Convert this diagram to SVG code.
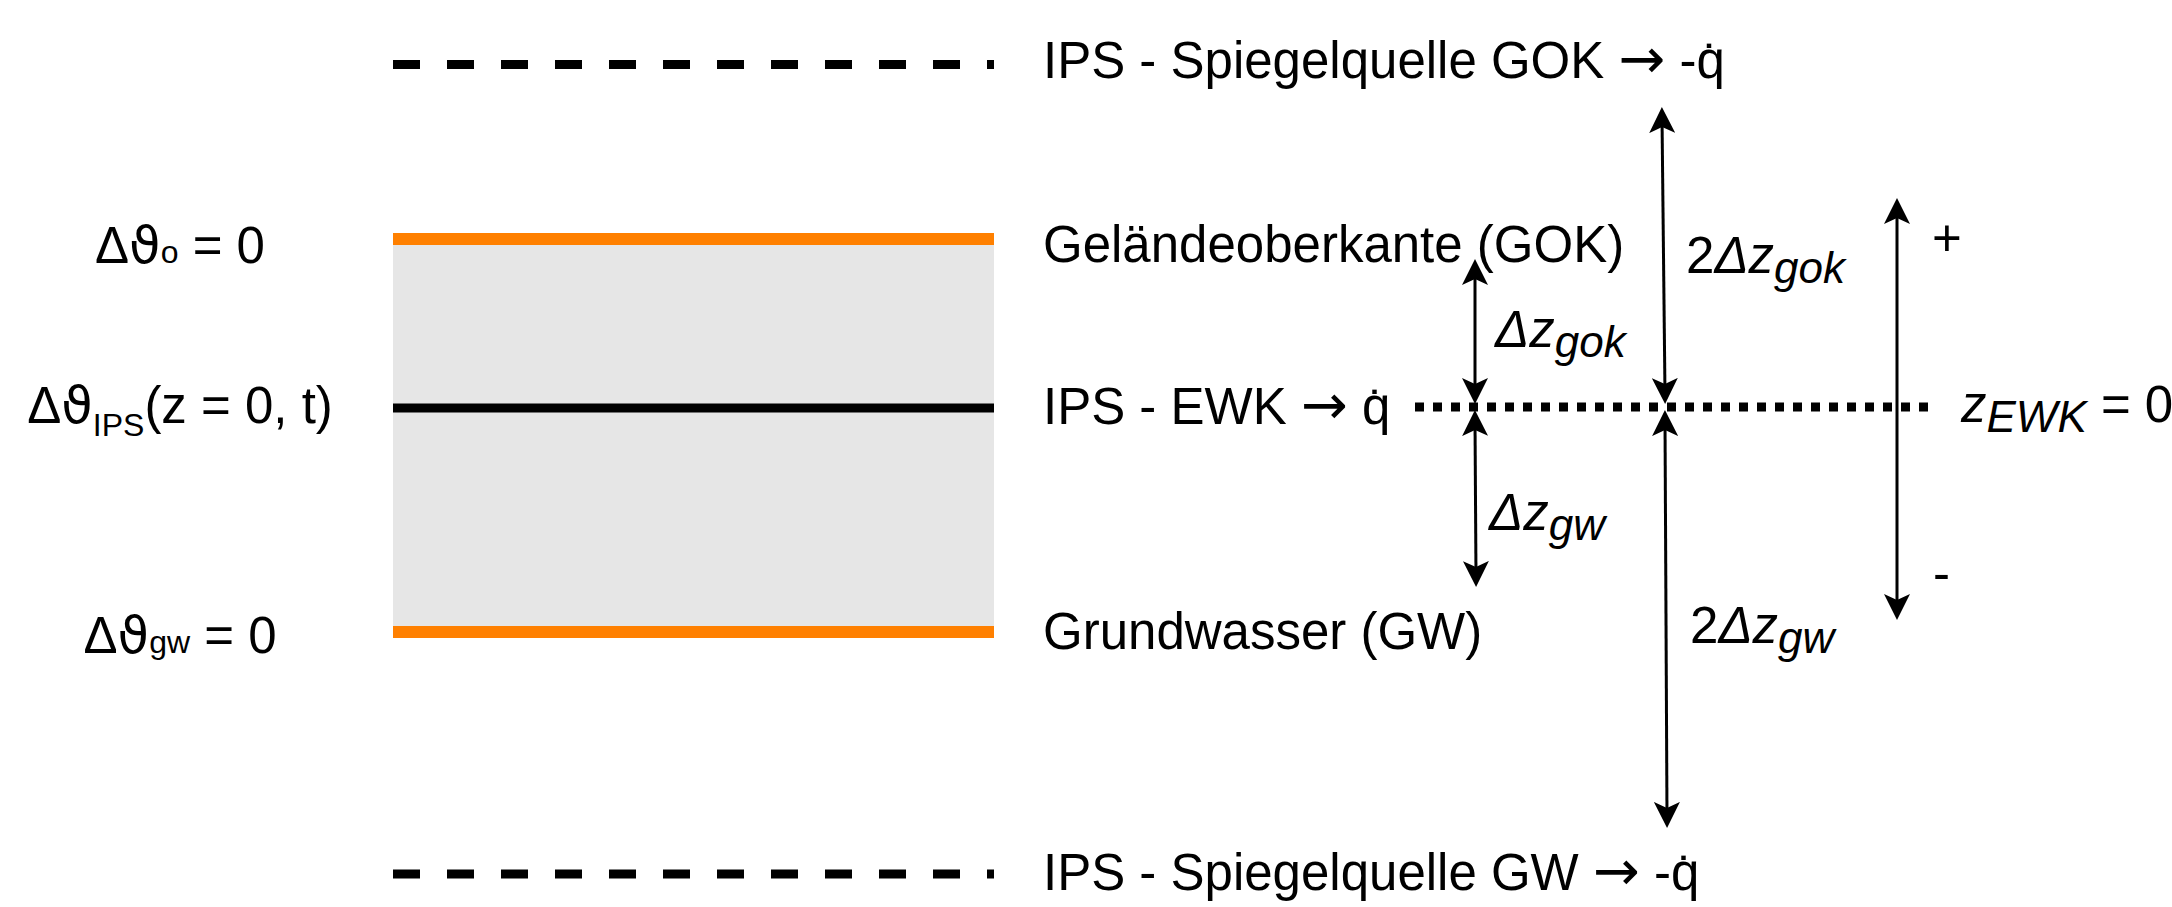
<svg xmlns="http://www.w3.org/2000/svg" width="2172" height="907" viewBox="0 0 2172 907">
  <style>
    text { font-family: "Liberation Sans", Arial, Helvetica, sans-serif; font-size: 51px; fill: #000; }
    .mid { text-anchor: middle; }
    .it { font-style: italic; }
    .sub { font-size: 32px; }
    .isub { font-size: 44px; }
    .arr { font-family: "DejaVu Sans", sans-serif; font-size: 56px; }
    .th { font-family: "DejaVu Sans", sans-serif; }
    .dash { stroke: #000; stroke-width: 9; stroke-dasharray: 27 27; fill: none; }
    .dot { stroke: #000; stroke-width: 9; stroke-dasharray: 9 9; fill: none; }
    .orange { stroke: #FF8000; stroke-width: 12; fill: none; }
    .conn { stroke: #000; stroke-width: 3; fill: none; marker-start: url(#ah); marker-end: url(#ah); }
  </style>
  <defs>
    <marker id="ah" markerUnits="userSpaceOnUse" viewBox="0 0 26 26" markerWidth="26" markerHeight="26" refX="16" refY="13" orient="auto-start-reverse">
      <path d="M0,0 L26,13 L0,26 L6,13 Z" fill="#000"/>
    </marker>
  </defs>
  <rect width="2172" height="907" fill="#fff"/>

  <g id="layer">
    <rect x="393" y="239" width="601" height="393" fill="#E6E6E6"/>
  </g>

  <g id="mirror-gok">
    <line class="dash" x1="393" y1="64.5" x2="994" y2="64.5"/>
    <text x="1043" y="78">IPS - Spiegelquelle GOK <tspan class="arr">→</tspan> -q̇</text>
  </g>

  <g id="gok">
    <line class="orange" x1="393" y1="239" x2="994" y2="239"/>
    <text x="1043" y="262">Geländeoberkante (GOK)</text>
    <text class="mid" x="180" y="263">Δ<tspan class="th">ϑ</tspan><tspan class="sub">o</tspan> = 0</text>
  </g>

  <g id="ewk">
    <line x1="393" y1="408" x2="994" y2="408" stroke="#000" stroke-width="9"/>
    <text x="1043" y="424">IPS - EWK <tspan class="arr">→</tspan> q̇</text>
    <text class="mid" x="180" y="423">Δ<tspan class="th">ϑ</tspan><tspan class="sub" dy="13">IPS</tspan><tspan dy="-13">(z = 0, t)</tspan></text>
    <line class="dot" x1="1415" y1="407" x2="1928" y2="407"/>
    <text x="1961" y="422"><tspan class="it">z</tspan><tspan class="it isub" dy="10">EWK</tspan><tspan dy="-10"> = 0</tspan></text>
  </g>

  <g id="gw">
    <line class="orange" x1="393" y1="632" x2="994" y2="632"/>
    <text x="1043" y="649">Grundwasser (GW)</text>
    <text class="mid" x="180" y="653">Δ<tspan class="th">ϑ</tspan><tspan class="sub">gw</tspan> = 0</text>
  </g>

  <g id="mirror-gw">
    <line class="dash" x1="393" y1="874" x2="994" y2="874"/>
    <text x="1043" y="890">IPS - Spiegelquelle GW <tspan class="arr">→</tspan> -q̇</text>
  </g>

  <g id="labels">
    <text class="it" x="1495" y="347">Δz<tspan class="isub" dy="10">gok</tspan></text>
    <text x="1686" y="273">2<tspan class="it">Δz</tspan><tspan class="it isub" dy="10">gok</tspan></text>
    <text class="it" x="1489" y="530">Δz<tspan class="isub" dy="10">gw</tspan></text>
    <text x="1690" y="643">2<tspan class="it">Δz</tspan><tspan class="it isub" dy="10">gw</tspan></text>
    <text x="1932" y="256">+</text>
    <text x="1933" y="591">-</text>
  </g>

  <g id="connectors">
    <line class="conn" x1="1475" y1="269" x2="1475" y2="394"/>
    <line class="conn" x1="1475" y1="420" x2="1476" y2="577"/>
    <line class="conn" x1="1662" y1="117" x2="1665" y2="394"/>
    <line class="conn" x1="1665" y1="420" x2="1667" y2="818"/>
    <line class="conn" x1="1897" y1="208" x2="1897" y2="610"/>
  </g>
</svg>
